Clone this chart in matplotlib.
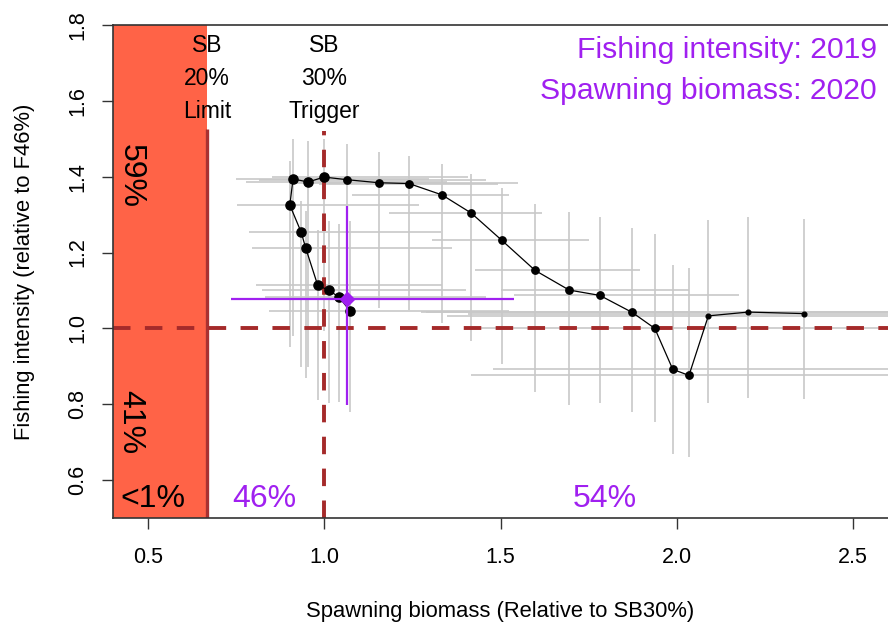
import matplotlib
matplotlib.use("Agg")
import matplotlib.pyplot as plt
from matplotlib.patches import Rectangle

plt.rcParams['font.family'] = ['Liberation Sans', 'DejaVu Sans']

# ---- data ----
# trajectory, oldest (right) to most recent (left loop)
sb = [2.362, 2.203, 2.090, 2.035, 1.989, 1.938, 1.874, 1.782, 1.695, 1.598,
      1.504, 1.417, 1.334, 1.240, 1.155, 1.065, 0.999, 0.954, 0.911, 0.902,
      0.934, 0.947, 0.981, 1.013, 1.041, 1.072]
fi = [1.039, 1.043, 1.033, 0.876, 0.892, 1.000, 1.042, 1.087, 1.101, 1.153,
      1.232, 1.304, 1.352, 1.382, 1.384, 1.392, 1.399, 1.386, 1.394, 1.325,
      1.254, 1.212, 1.114, 1.100, 1.083, 1.047]
sb_lo = [1.409, 1.288, 1.347, 1.415, 1.480, 1.438, 1.273, 1.537, 1.500, 1.429,
         1.305, 1.183, 1.078, 0.984, 0.899, 0.814, 0.851, 0.778, 0.749, 0.752,
         0.786, 0.795, 0.806, 0.823, 0.831, 0.843]
sb_hi = [2.75, 2.75, 2.75, 2.75, 2.75, 2.75, 2.75, 2.177, 2.035, 1.897,
         1.752, 1.619, 1.525, 1.494, 1.551, 1.458, 1.409, 1.347, 1.296, 1.268,
         1.330, 1.361, 1.333, 1.401, 1.458, 1.523]
fi_lo = [0.815, 0.817, 0.802, 0.661, 0.669, 0.754, 0.780, 0.802, 0.799, 0.833,
         0.907, 0.966, 1.013, 1.048, 1.053, 1.045, 0.992, 0.899, 0.979, 0.952,
         0.899, 0.868, 0.812, 0.802, 0.807, 0.780]
fi_hi = [1.288, 1.294, 1.286, 1.159, 1.167, 1.249, 1.265, 1.294, 1.307, 1.328,
         1.370, 1.407, 1.434, 1.455, 1.466, 1.487, 1.500, 1.495, 1.500, 1.442,
         1.336, 1.310, 1.259, 1.283, 1.275, 1.283]

# latest status (purple)
cur_sb, cur_sb_lo, cur_sb_hi = 1.065, 0.735, 1.537
cur_fi, cur_fi_lo, cur_fi_hi = 1.078, 0.799, 1.323

limit_rp = 0.667      # SB20% relative to SB30%
trigger_rp = 1.0
f_ref = 1.0

zone_labels = ["59%", "41%", "<1%", "46%", "54%"]
xticks = [0.5, 1.0, 1.5, 2.0, 2.5]
yticks = [0.6, 0.8, 1.0, 1.2, 1.4, 1.6, 1.8]

# ---- figure ----
fig = plt.figure(figsize=(8.88, 6.25), dpi=100)
ax = fig.add_axes([113/888, 107/625, 775/888, 493/625])
xmin, xmax, ymin, ymax = 0.4, 2.6, 0.5, 1.8
ax.set_xlim(xmin, xmax)
ax.set_ylim(ymin, ymax)

red = "#FF6347"
dark = "#A52A2A"
purple = "#A020F0"
grey = "#C8C8C8"

# limit zone
ax.add_patch(Rectangle((xmin, ymin), limit_rp - xmin, ymax - ymin,
                       facecolor=red, edgecolor="none", zorder=0))

# uncertainty bars
for i in range(len(sb)):
    ax.hlines(fi[i], sb_lo[i], sb_hi[i], color=grey, lw=1.2, zorder=1)
    ax.vlines(sb[i], fi_lo[i], fi_hi[i], color=grey, lw=1.2, zorder=1)

# reference lines
ax.vlines(limit_rp, ymin, 1.526, color="#A83232", lw=2.4, zorder=2)
ax.plot([trigger_rp, trigger_rp], [ymin, 1.52], color=dark, lw=2.8,
        linestyle=(0, (4.5, 3.7)), zorder=2)
ax.plot([xmin, xmax], [f_ref, f_ref], color=dark, lw=2.8,
        linestyle=(0, (4.5, 3.7)), zorder=2)

# trajectory
ax.plot(sb, fi, color="black", lw=0.9, zorder=3)
for i in range(len(sb)):
    ms = 3.4 if i < 3 else (5.3 if i < 16 else 6.6)
    ax.plot(sb[i], fi[i], "o", color="black", ms=ms, zorder=4)

# current status
ax.hlines(cur_fi, cur_sb_lo, cur_sb_hi, color=purple, lw=1.6, zorder=5)
ax.vlines(cur_sb, cur_fi_lo, cur_fi_hi, color=purple, lw=1.6, zorder=5)
ax.plot(cur_sb, cur_fi, "D", color=purple, ms=7.5, zorder=6)

# annotations
for x0, lab in [(limit_rp, ["SB", "20%", "Limit"]), (trigger_rp, ["SB", "30%", "Trigger"])]:
    for y0, t in zip([1.746, 1.659, 1.571], lab):
        ax.text(x0, y0, t, ha="center", va="center", fontsize=16.5, zorder=7)

ax.text(2.568, 1.733, "Fishing intensity: 2019", ha="right", va="center",
        fontsize=21.7, color=purple)
ax.text(2.568, 1.627, "Spawning biomass: 2020", ha="right", va="center",
        fontsize=21.7, color=purple)

ax.text(0.449, 1.402, zone_labels[0], rotation=270, ha="center", va="center", fontsize=23)
ax.text(0.449, 0.754, zone_labels[1], rotation=270, ha="center", va="center", fontsize=23)
ax.text(0.514, 0.550, zone_labels[2], ha="center", va="center", fontsize=23)
ax.text(0.829, 0.550, zone_labels[3], ha="center", va="center", fontsize=23, color=purple)
ax.text(1.795, 0.550, zone_labels[4], ha="center", va="center", fontsize=23, color=purple)

# axes styling
ax.set_xticks(xticks)
ax.set_xticklabels([f"{v:.1f}" for v in xticks])
ax.set_yticks(yticks)
ax.set_yticklabels([f"{v:.1f}" for v in yticks], rotation=90, va="center")
ax.tick_params(axis="both", direction="out", length=8, width=1, labelsize=15.5, color="#333333")
ax.tick_params(axis="x", pad=13)
ax.tick_params(axis="y", pad=10)
ax.spines["right"].set_visible(False)
for s in ["left", "top", "bottom"]:
    ax.spines[s].set_color("#333333")
    ax.spines[s].set_linewidth(1.2)

ax.set_xlabel("Spawning biomass (Relative to SB30%)", fontsize=15.8, labelpad=24)
ax.set_ylabel("Fishing intensity (relative to F46%)", fontsize=15.8, labelpad=23)

fig.savefig("out.png", dpi=100)
